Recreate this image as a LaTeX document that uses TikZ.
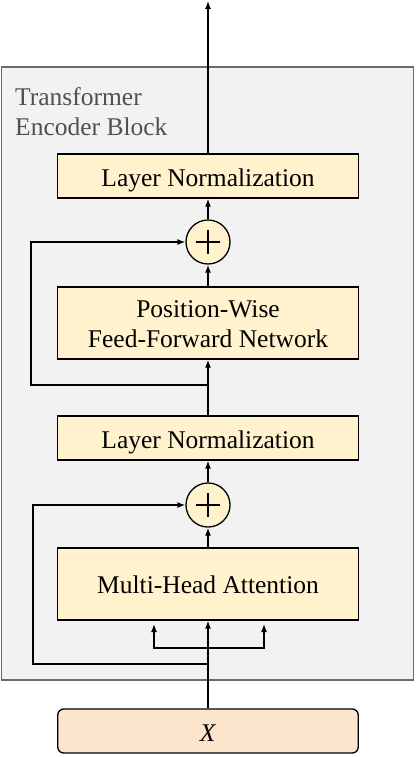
\documentclass[tikz,border=0pt]{standalone}
\usepackage{fontspec}
\setmainfont{Liberation Serif}
\usetikzlibrary{arrows.meta,calc}
\definecolor{boxyellow}{HTML}{FFF2CC}
\definecolor{boxpeach}{HTML}{FBE5CD}
\definecolor{panelgrey}{HTML}{F2F2F2}
\definecolor{panelline}{HTML}{6B6B6B}
\definecolor{titlegrey}{HTML}{505050}
\tikzset{
  blockbox/.style={draw=black, line width=1.3bp, fill=boxyellow, minimum width=300.5bp, align=center, inner sep=0pt,
    font=\fontsize{25.5bp}{30bp}\selectfont},
  addnode/.style={draw=black, line width=1.3bp, fill=boxyellow, circle, minimum size=44bp, inner sep=0pt},
  conn/.style={line width=1.3bp, -{Latex[length=8bp,width=6bp]}},
  plainline/.style={line width=1.3bp}
}
\begin{document}
\begin{tikzpicture}[x=1bp,y=-1bp]
\useasboundingbox (0,0) rectangle (415,757);
\draw[fill=panelgrey, draw=panelline, line width=1.5bp] (1.5,67) rectangle (413.5,680);
\node[anchor=base west, align=left, text=titlegrey, font=\fontsize{25.5bp}{30bp}\selectfont, inner sep=0pt] (title) at (15,105) {Transformer};
\node[anchor=base west, align=left, text=titlegrey, font=\fontsize{25.5bp}{30bp}\selectfont, inner sep=0pt] (title2) at (15,135) {Encoder Block};

\node[blockbox, minimum height=44bp, text height=24bp, text depth=4bp] (ln1) at (208,176) {Layer Normalization};
\node[addnode] (p1) at (208,242) {};
\draw[plainline] ($(p1.center)+(-12,0)$) -- ($(p1.center)+(12,0)$) ($(p1.center)+(0,-12)$) -- ($(p1.center)+(0,12)$);
\node[blockbox, minimum height=72bp, text height=52bp, text depth=4bp] (ffn) at (208,323)
  {\begin{tabular}[b]{@{}c@{}}Position-Wise\\Feed-Forward Network\end{tabular}};
\node[blockbox, minimum height=44bp, text height=24bp, text depth=4bp] (ln2) at (208,438) {Layer Normalization};
\node[addnode] (p2) at (208,505) {};
\draw[plainline] ($(p2.center)+(-12,0)$) -- ($(p2.center)+(12,0)$) ($(p2.center)+(0,-12)$) -- ($(p2.center)+(0,12)$);
\node[blockbox, minimum height=72bp, text height=22bp, text depth=4bp] (mha) at (208,584) {Multi-Head Attention};
\node[draw=black, line width=1.3bp, fill=boxpeach, rounded corners=6bp, minimum width=300.5bp, minimum height=44bp,
  inner sep=0pt, text height=24bp, text depth=4bp,
  font=\fontsize{25.5bp}{30bp}\selectfont] (x) at (208,731) {\textit{X}};

\coordinate (out) at (208,1);
\coordinate (br1) at (208,385);
\coordinate (br2) at (208,664);
\coordinate (fb1) at (31,385);
\coordinate (fb2) at (33,664);
\coordinate (sq) at (154,648);
\coordinate (sk) at (264,648);
\coordinate (sqt) at (154,624);
\coordinate (skt) at (264,624);

\draw[conn] (ln1.north) -- (out);
\draw[conn] (p1.north) -- (ln1.south);
\draw[conn] (ffn.north) -- (p1.south);
\draw[conn] (ln2.north) -- (ffn.south);
\draw[conn] (br1) -- (fb1) |- (p1.west);
\draw[conn] (p2.north) -- (ln2.south);
\draw[conn] (mha.north) -- (p2.south);
\draw[conn] (x.north) -- (mha.south);
\draw[conn] (br2) -- (fb2) |- (p2.west);
\draw[conn] (sk) -| (sq) -- (sqt);
\draw[conn] (sq) -| (skt);
\end{tikzpicture}
\end{document}
